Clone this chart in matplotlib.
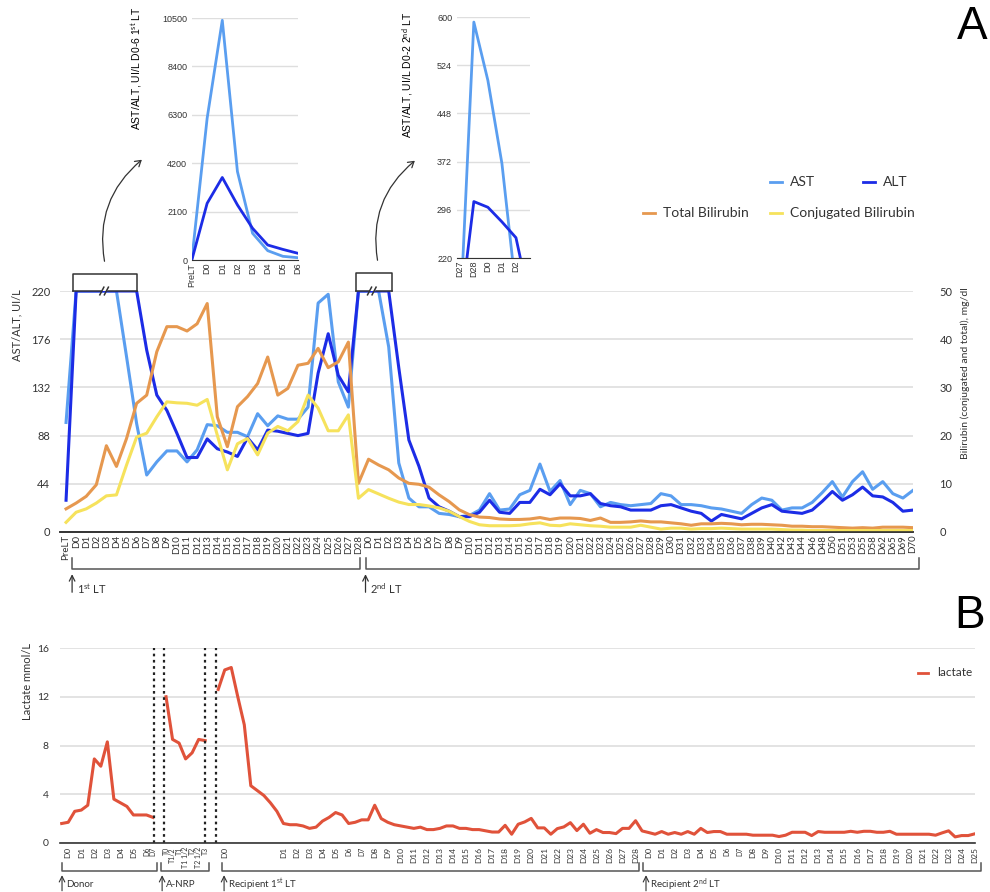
import numpy as np
import matplotlib.pyplot as plt
from matplotlib.patches import FancyArrowPatch
from matplotlib.lines import Line2D

plt.rcParams['font.family'] = ['Lato', 'DejaVu Sans']
plt.rcParams['mathtext.fontset'] = 'custom'
plt.rcParams['mathtext.rm'] = 'Lato'
plt.rcParams['mathtext.it'] = 'Lato:italic'
plt.rcParams['mathtext.bf'] = 'Lato:bold'

# ---------------- data, panel A ----------------
first_lt_days = list(range(0, 29))
second_lt_days = list(range(0, 41)) + [42, 43, 44, 46, 48, 50, 51, 53, 55, 58, 62, 65, 69, 70]
day_labels = ['PreLT'] + ['D%d' % d for d in first_lt_days] + ['D%d' % d for d in second_lt_days]

ast = [100, 6150, 10400, 3840, 1160, 405, 160, 99, 52, 64,
       74, 74, 64, 75, 98, 97, 91, 91, 87, 108,
       97, 106, 103, 103, 114, 209, 217, 137, 114, 592,
       500, 369, 169, 63, 31, 23, 23, 17, 16, 14,
       15, 20, 35, 20, 21, 34, 38, 62, 37, 47,
       25, 38, 35, 23, 27, 25, 24, 25, 26, 35,
       33, 25, 25, 24, 22, 21, 19, 17, 25, 31,
       29, 20, 22, 22, 27, 36, 46, 32, 46, 55,
       39, 46, 35, 31, 38]

alt = [29, 2460, 3580, 2390, 1375, 650, 460, 290, 166, 125,
       111, 90, 68, 68, 85, 76, 73, 69, 86, 75,
       93, 92, 90, 88, 90, 145, 181, 143, 128, 309,
       300, 277, 252, 150, 84, 60, 31, 23, 19, 14,
       14, 18, 29, 18, 17, 27, 27, 39, 34, 44,
       33, 33, 35, 26, 24, 23, 20, 20, 20, 24,
       25, 22, 19, 17, 10, 16, 14, 12, 17, 22,
       25, 19, 18, 17, 20, 28, 37, 29, 34, 41,
       33, 32, 27, 19, 20]

total_bili = [4.8, 6.0, 7.4, 9.8, 17.9, 13.6, 19.4, 26.7, 28.4, 37.4,
              42.6, 42.6, 41.7, 43.2, 47.4, 23.9, 17.7, 26.0, 28.1, 30.8,
              36.3, 28.4, 29.8, 34.6, 35.0, 38.1, 34.1, 35.3, 39.4, 10.1,
              15.1, 13.9, 12.9, 11.2, 10.1, 9.9, 9.3, 7.7, 6.3, 4.6,
              3.6, 3.1, 3.0, 2.7, 2.6, 2.6, 2.7, 3.0, 2.6, 2.9,
              2.9, 2.8, 2.4, 2.9, 2.0, 2.0, 2.1, 2.3, 2.1, 2.1,
              1.9, 1.7, 1.4, 1.7, 1.7, 1.8, 1.7, 1.5, 1.6, 1.6,
              1.5, 1.4, 1.2, 1.2, 1.1, 1.1, 1.0, 0.9, 0.8, 0.9,
              0.8, 1.0, 1.0, 1.0, 0.9]

conj_bili = [2.0, 4.1, 4.8, 6.0, 7.5, 7.7, 13.9, 19.7, 20.5, 23.9,
             27.0, 26.8, 26.7, 26.3, 27.5, 20.1, 12.9, 18.3, 19.4, 16.0,
             20.5, 21.9, 21.0, 22.9, 28.4, 25.7, 21.0, 21.0, 24.3, 7.0,
             8.8, 7.9, 7.0, 6.2, 5.7, 5.7, 5.4, 5.0, 4.3, 3.2,
             2.2, 1.5, 1.3, 1.3, 1.3, 1.4, 1.7, 1.9, 1.4, 1.3,
             1.7, 1.5, 1.3, 1.2, 1.0, 1.0, 1.0, 1.4, 1.0, 0.6,
             0.8, 0.8, 0.6, 0.7, 0.7, 0.8, 0.7, 0.6, 0.6, 0.6,
             0.6, 0.5, 0.4, 0.4, 0.3, 0.3, 0.3, 0.3, 0.3, 0.3,
             0.3, 0.3, 0.3, 0.3, 0.3]

# ---------------- data, panel B ----------------
donor_labels = ['', 'D0', '', 'D1', '', 'D2', '', 'D3', '', 'D4', '', 'D5', '', 'D6', 'D7']
donor_lactate = [1.6, 1.7, 2.6, 2.7, 3.1, 6.9, 6.3, 8.3, 3.6, 3.3, 3.0, 2.3, 2.3, 2.3, 2.1]

anrp_labels = ['T0', 'T1/2', 'T1', 'T1 1/2', 'T2', 'T2 1/2', 'T3']
anrp_lactate = [12.0, 8.5, 8.2, 6.9, 7.4, 8.5, 8.4]

recip1_labels = ['', 'D0'] + [''] * 8
for d in range(1, 29):
    recip1_labels += ['D%d' % d, '']
recip1_lactate = [12.6, 14.2, 14.4, 12.0, 9.7, 4.7, 4.3, 3.9, 3.3, 2.6,
                  1.6, 1.5, 1.5, 1.4, 1.2, 1.3, 1.8, 2.1, 2.5, 2.3,
                  1.6, 1.7, 1.9, 1.9, 3.1, 2.0, 1.7, 1.5, 1.4, 1.3,
                  1.2, 1.3, 1.1, 1.1, 1.2, 1.4, 1.4, 1.2, 1.2, 1.1,
                  1.1, 1.0, 0.9, 0.9, 1.45, 0.72, 1.54, 1.73, 2.02, 1.24,
                  1.24, 0.72, 1.18, 1.32, 1.67, 1.02, 1.54, 0.8, 1.1, 0.86,
                  0.86, 0.77, 1.2, 1.2, 1.83, 0.99]

recip2_labels = []
for d in range(0, 25):
    recip2_labels += ['D%d' % d, '']
recip2_labels += ['D25']
recip2_lactate = [0.86, 0.72, 0.94, 0.72, 0.86, 0.72, 0.94, 0.72, 1.2, 0.86,
                  0.94, 0.94, 0.72, 0.72, 0.72, 0.72, 0.64, 0.64, 0.64, 0.64,
                  0.53, 0.64, 0.88, 0.88, 0.88, 0.61, 0.94, 0.88, 0.88, 0.88,
                  0.88, 0.96, 0.88, 0.96, 0.96, 0.88, 0.88, 0.96, 0.72, 0.72,
                  0.72, 0.72, 0.72, 0.72, 0.64, 0.83, 1.0, 0.5, 0.61, 0.61,
                  0.75]

lactate = donor_lactate + [np.nan] + anrp_lactate + [np.nan] + recip1_lactate + recip2_lactate
lactate_labels = donor_labels + [''] + anrp_labels + [''] + recip1_labels + recip2_labels

# colours
c_ast = '#5a9ef0'
c_alt = '#1c2ce6'
c_tbil = '#e6984f'
c_cbil = '#f6e25c'
c_lac = '#e0523a'
c_grid = '#dedede'
c_txt = '#333333'

W, H = 990, 892
def fx(px):
    return px / W
def fy(py):
    return 1 - py / H

fig = plt.figure(figsize=(9.9, 8.92), dpi=100)

# ================= panel A main chart =================
x = np.arange(len(day_labels))
ax = fig.add_axes([fx(60), fy(532), 853 / W, 241 / H])
ax2 = ax.twinx()
ax.plot(x, np.minimum(ast, 220), color=c_ast, lw=2.2)
ax.plot(x, np.minimum(alt, 220), color=c_alt, lw=2.2)
ax2.plot(x, total_bili, color=c_tbil, lw=2.2)
ax2.plot(x, conj_bili, color=c_cbil, lw=2.2)

ax.set_xlim(-0.6, 84)
ax.set_ylim(0, 220)
ax2.set_ylim(0, 50)
ax.set_yticks([0, 44, 88, 132, 176, 220])
ax2.set_yticks([0, 10, 20, 30, 40, 50])
ax.yaxis.grid(True, color=c_grid, lw=1.2)
ax.set_axisbelow(True)
ax.set_xticks(x)
ax.set_xticklabels(day_labels, rotation=90, fontsize=7, color=c_txt)
ax.tick_params(axis='x', length=0, pad=2)
ax.tick_params(axis='y', length=0, pad=7, labelsize=8, labelcolor=c_txt)
ax2.tick_params(axis='y', length=0, pad=19, labelsize=8, labelcolor=c_txt)
for a in (ax, ax2):
    for s in ('top', 'left', 'right'):
        a.spines[s].set_visible(False)
    a.spines['bottom'].set_color('#333333')
    a.spines['bottom'].set_linewidth(1.2)

fig.text(fx(17), fy(289), 'AST/ALT, UI/L', rotation=90, ha='center', va='top',
         fontsize=8, color=c_txt)
fig.text(fx(965), fy(287), 'Bilirubin (conjugated and total), mg/dl', rotation=90,
         ha='center', va='top', fontsize=7.5, color=c_txt)

# brackets above chart with break marks
def top_bracket(x0, x1, ytop, xb):
    kw = dict(color='#333333', lw=1.1, clip_on=False, zorder=5)
    ax.plot([x0, x0, x1, x1], [220, ytop, ytop, 220], **kw)
    ax.plot([x0, xb - 0.35], [220, 220], **kw)
    ax.plot([xb + 0.35, x1], [220, 220], **kw)
    for dx in (-0.3, 0.15):
        ax.plot([xb + dx - 0.2, xb + dx + 0.2], [216.5, 223.5], **kw)

top_bracket(0.7, 7.05, 235.5, 3.85)
top_bracket(28.8, 32.3, 236.5, 30.4)

# brackets below chart
trx = ax.get_xaxis_transform()
bk = dict(color='#555555', lw=1.1, clip_on=False, transform=trx)
ax.plot([0.6, 0.6, 29.2, 29.2], [-0.108, -0.1535, -0.1535, -0.108], **bk)
ax.plot([29.7, 29.7, 84.6, 84.6], [-0.108, -0.1535, -0.1535, -0.108], **bk)
for xa, lab in ((0.6, r'1$^{\mathrm{st}}$ LT'), (29.7, r'2$^{\mathrm{nd}}$ LT')):
    ax.annotate('', xy=(xa, -0.175), xytext=(xa, -0.25), xycoords=trx, textcoords=trx,
                arrowprops=dict(arrowstyle='->', lw=0.9, color='#333333',
                                shrinkA=0, shrinkB=0))
    ax.text(xa + 0.45, -0.237, lab, transform=trx, fontsize=8, va='center',
            ha='left', color=c_txt)

# curved arrows to insets
for p0, p1 in (((105, 264), (144, 158)), ((378, 263), (417, 159))):
    arr = FancyArrowPatch((fx(p0[0]), fy(p0[1])), (fx(p1[0]), fy(p1[1])),
                          transform=fig.transFigure, connectionstyle='arc3,rad=-0.3',
                          arrowstyle='->,head_length=4,head_width=2.5', lw=0.9,
                          color='#333333')
    fig.patches.append(arr)

# legend
def leg(px, py, label, col):
    fig.add_artist(Line2D([fx(px), fx(px + 12)], [fy(py), fy(py)], color=col, lw=2,
                          transform=fig.transFigure))
    fig.text(fx(px + 20), fy(py), label, fontsize=10, va='center', color=c_txt)

leg(770, 182, 'AST', c_ast)
leg(863, 182, 'ALT', c_alt)
leg(643, 213, 'Total Bilirubin', c_tbil)
leg(770, 213, 'Conjugated Bilirubin', c_cbil)

fig.text(fx(972), fy(27), 'A', fontsize=33, ha='center', va='center',
         family='Liberation Sans')

# ================= insets =================
inset_font = ['Liberation Sans', 'DejaVu Sans']

def style_inset(a):
    a.yaxis.grid(True, color=c_grid, lw=1)
    a.set_axisbelow(True)
    for s in ('top', 'left', 'right'):
        a.spines[s].set_visible(False)
    a.spines['bottom'].set_color('#333333')
    a.tick_params(length=0, labelsize=6.5, labelcolor=c_txt)
    a.tick_params(axis='x', pad=2)
    for t in a.get_xticklabels() + a.get_yticklabels():
        t.set_family(inset_font)

ins1 = fig.add_axes([fx(192), fy(260), 106 / W, 242 / H])
xi1 = np.arange(8)
ins1.plot(xi1, ast[0:8], color=c_ast, lw=2)
ins1.plot(xi1, alt[0:8], color=c_alt, lw=2)
ins1.set_xlim(0, 7)
ins1.set_ylim(0, 10500)
ins1.set_yticks([0, 2100, 4200, 6300, 8400, 10500])
ins1.set_xticks(xi1)
ins1.set_xticklabels(day_labels[0:8], rotation=90)
style_inset(ins1)
fig.text(fx(137), fy(6), r'AST/ALT, UI/L D0-6 1$^{\mathrm{st}}$ LT', rotation=90,
         ha='center', va='top', fontsize=7.5, family=inset_font)

ins2 = fig.add_axes([fx(457), fy(258), 73 / W, 241 / H])
xi2 = np.arange(6)
ins2.plot(xi2, ast[28:34], color=c_ast, lw=2)
ins2.plot(xi2, alt[28:34], color=c_alt, lw=2)
ins2.set_xlim(-0.2, 5)
ins2.set_ylim(220, 600)
ins2.set_yticks([220, 296, 372, 448, 524, 600])
ins2.set_xticks(xi2[:5])
ins2.set_xticklabels(day_labels[28:33], rotation=90)
style_inset(ins2)
fig.text(fx(408), fy(12), r'AST/ALT, UI/L D0-2 2$^{\mathrm{nd}}$ LT', rotation=90,
         ha='center', va='top', fontsize=7.5, family=inset_font)

# ================= panel B =================
xb = np.arange(len(lactate))
axb = fig.add_axes([fx(60), fy(843), 915 / W, 195 / H])
axb.plot(xb, lactate, color=c_lac, lw=2.2)
axb.set_xlim(-0.26, 140.05)
axb.set_ylim(0, 16)
axb.set_yticks([0, 4, 8, 12, 16])
axb.yaxis.grid(True, color=c_grid, lw=1.2)
axb.set_axisbelow(True)
tick_pos = [i for i, l in enumerate(lactate_labels) if l]
axb.set_xticks(tick_pos)
axb.set_xticklabels([lactate_labels[i] for i in tick_pos], rotation=90, fontsize=6,
                    color=c_txt)
for t in axb.get_xticklabels():
    if t.get_text().startswith('T') or t.get_text() in ('D6', 'D7'):
        t.set_fontsize(5)
axb.tick_params(axis='x', length=0, pad=3)
axb.tick_params(axis='y', length=0, pad=8, labelsize=7.5, labelcolor=c_txt)
for s in ('top', 'left', 'right'):
    axb.spines[s].set_visible(False)
axb.spines['bottom'].set_color('#333333')
axb.spines['bottom'].set_linewidth(1.2)
for xv in (14.1, 15.7, 22.0, 23.7):
    axb.axvline(xv, color='#222222', ls=(0, (1.2, 1.6)), lw=1.6)

fig.text(fx(28), fy(643), 'Lactate mmol/L', rotation=90, ha='center', va='top',
         fontsize=8, color=c_txt)

trb = axb.get_xaxis_transform()
bkb = dict(color='#555555', lw=1.1, clip_on=False, transform=trb)
for x0, x1 in ((0, 14.6), (15.3, 22.6), (24.6, 88.6), (89.2, 141)):
    axb.plot([x0, x0, x1, x1], [-0.1026, -0.1436, -0.1436, -0.1026], **bkb)
for xa, lab in ((0.05, 'Donor'), (15.4, 'A-NRP'),
                (24.9, r'Recipient 1$^{\mathrm{st}}$ LT'),
                (89.6, r'Recipient 2$^{\mathrm{nd}}$ LT')):
    axb.annotate('', xy=(xa, -0.165), xytext=(xa, -0.245), xycoords=trb, textcoords=trb,
                 arrowprops=dict(arrowstyle='->', lw=0.8, color='#333333',
                                 shrinkA=0, shrinkB=0))
    axb.text(xa + 0.6, -0.212, lab, transform=trb, fontsize=7, va='center', ha='left',
             color=c_txt)

fig.add_artist(Line2D([fx(918), fx(928)], [fy(673), fy(673)], color=c_lac, lw=2,
                      transform=fig.transFigure))
fig.text(fx(937), fy(673), 'lactate', fontsize=8.5, va='center', color=c_txt)
fig.text(fx(970), fy(616), 'B', fontsize=33, ha='center', va='center',
         family='Liberation Sans')

fig.savefig('out.png', dpi=100)
